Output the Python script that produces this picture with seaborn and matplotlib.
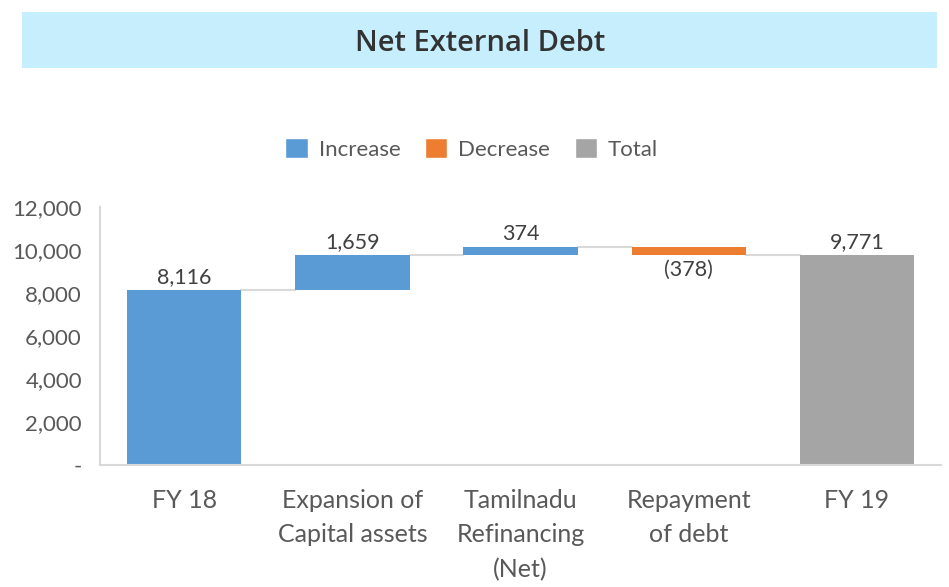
import numpy as np
import pandas as pd
import matplotlib
matplotlib.use("Agg")
import matplotlib.pyplot as plt
from matplotlib.patches import Rectangle, Patch
import seaborn as sns

# Chart data
categories = ["FY 18", "Expansion of\nCapital assets", "Tamilnadu\nRefinancing\n(Net)",
              "Repayment\nof debt", "FY 19"]
changes = [8116, 1659, 374, -378, 9771]
kinds = ["Increase", "Increase", "Increase", "Decrease", "Total"]
value_labels = ["8,116", "1,659", "374", "(378)", "9,771"]
y_ticks = [0, 2000, 4000, 6000, 8000, 10000, 12000]
y_tick_labels = ["-", "2,000", "4,000", "6,000", "8,000", "10,000", "12,000"]

kind_colors = {"Increase": "#5B9BD5", "Decrease": "#ED7D31", "Total": "#A5A5A5"}

# running totals -> bar bottoms / heights
bottoms, heights, ends = [], [], []
running = 0
for val, kind in zip(changes, kinds):
    if kind == "Total":
        bottoms.append(0)
        heights.append(val)
        running = val
    else:
        new = running + val
        bottoms.append(min(running, new))
        heights.append(abs(val))
        running = new
    ends.append(running)

df = pd.DataFrame({"category": categories, "height": heights, "bottom": bottoms, "kind": kinds})

sns.set_style("white")
plt.rcParams["font.family"] = ["Lato", "DejaVu Sans"]

fig = plt.figure(figsize=(9.49, 5.87), dpi=100)
ax = fig.add_axes([0.1054, 0.2078, 0.8862, 0.4396])

sns.barplot(data=df, x="category", y="height", bottom=df["bottom"].to_numpy(),
            width=0.68, errorbar=None, ax=ax, color="#5B9BD5", saturation=1)
for patch, kind in zip(ax.patches, df["kind"]):
    patch.set_facecolor(kind_colors[kind])
    patch.set_edgecolor("none")

# connector lines
half = 0.34
for i in range(len(categories) - 1):
    ax.plot([i + half, i + 1 - half], [ends[i], ends[i]], color="#D9D9D9", lw=1.5, zorder=0)

# value labels
for i, (lab, kind) in enumerate(zip(value_labels, kinds)):
    top = bottoms[i] + heights[i]
    if kind == "Decrease":
        ax.text(i, bottoms[i] - 250, lab, ha="center", va="top", fontsize=15.5, color="#404040")
    else:
        ax.text(i, top + 150, lab, ha="center", va="bottom", fontsize=15.5, color="#404040")

ax.set_xlim(-0.5, 4.5)
ax.set_ylim(0, 12000)
ax.set_yticks(y_ticks)
ax.set_yticklabels(y_tick_labels)
ax.set_xlabel("")
ax.set_ylabel("")
ax.tick_params(axis="y", length=0, pad=13, labelsize=16, labelcolor="#595959")
ax.tick_params(axis="x", length=0, pad=17, labelsize=18, labelcolor="#595959")
for lbl in ax.get_xticklabels():
    lbl.set_linespacing(1.62)

for side in ["top", "right"]:
    ax.spines[side].set_visible(False)
for side in ["left", "bottom"]:
    ax.spines[side].set_color("#D9D9D9")
    ax.spines[side].set_linewidth(1.5)

# title banner
fig.patches.append(Rectangle((0.0232, 0.8842), 0.964, 0.0954, transform=fig.transFigure,
                             facecolor="#C6EEFD", edgecolor="none", zorder=0))
fig.text(0.506, 0.926, "Net External Debt", ha="center", va="center", fontsize=21,
         fontweight="semibold", color="#333333", family=["Open Sans", "DejaVu Sans"])

# legend
handles = [Patch(facecolor=kind_colors[k], label=k) for k in ["Increase", "Decrease", "Total"]]
fig.legend(handles=handles, loc="center", bbox_to_anchor=(0.497, 0.746), ncol=3, frameon=False,
           fontsize=16, handlelength=1.0, handleheight=1.0, handletextpad=0.5,
           columnspacing=1.1, labelcolor="#595959")

fig.savefig("out.png", dpi=100)
